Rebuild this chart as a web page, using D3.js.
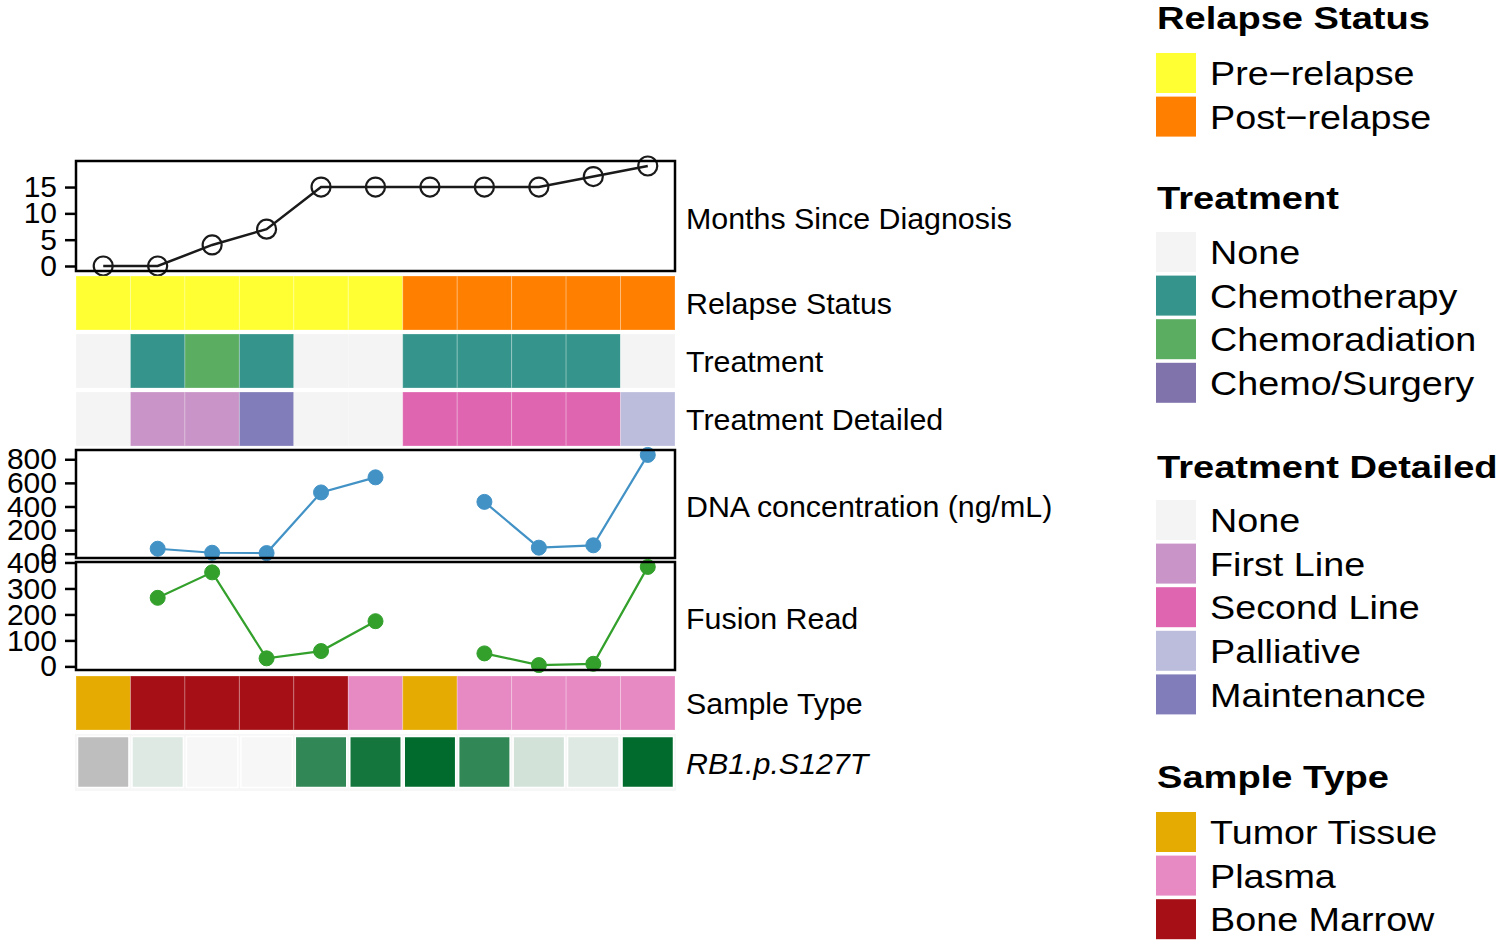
<!DOCTYPE html>
<html><head><meta charset="utf-8">
<script src="https://cdn.jsdelivr.net/npm/d3@7"></script>
<style>body{margin:0;background:#fff} text{font-family:"Liberation Sans",Arial,Helvetica,sans-serif;fill:#000}</style>
</head><body><svg id="c" width="1500" height="946"></svg>
<script>
// ---------------- DATA ----------------
const samples = ["S1","S2","S3","S4","S5","S6","S7","S8","S9","S10","S11"];
const months = [0,0,4,7,15,15,15,15,15,17,19];
const relapse = ["Pre−relapse","Pre−relapse","Pre−relapse","Pre−relapse","Pre−relapse","Pre−relapse","Post−relapse","Post−relapse","Post−relapse","Post−relapse","Post−relapse"];
const treatment = ["None","Chemotherapy","Chemoradiation","Chemotherapy","None","None","Chemotherapy","Chemotherapy","Chemotherapy","Chemotherapy","None"];
const treatmentDetailed = ["None","First Line","First Line","Maintenance","None","None","Second Line","Second Line","Second Line","Second Line","Palliative"];
const dnaConc = [null,42,8,5,519,647,null,439,51,71,837];
const fusionRead = [null,264,362,31,59,174,null,50,5,10,383];
const sampleType = ["Tumor Tissue","Bone Marrow","Bone Marrow","Bone Marrow","Bone Marrow","Plasma","Tumor Tissue","Plasma","Plasma","Plasma","Plasma"];
const rb1 = [null,0.1,0,0,0.8,0.92,1,0.8,0.15,0.1,1];

const relapseLevels = ["Pre−relapse","Post−relapse"];
const relapseColors = ["#FFFF33","#FF7F00"];
const treatmentLevels = ["None","Chemotherapy","Chemoradiation","Chemo/Surgery"];
const treatmentColors = ["#F4F4F4","#35958C","#5BAD61","#8073AC"];
const detailedLevels = ["None","First Line","Second Line","Palliative","Maintenance"];
const detailedColors = ["#F4F4F4","#C994C7","#DF65B0","#BCBDDC","#807DBA"];
const sampleLevels = ["Tumor Tissue","Plasma","Bone Marrow"];
const sampleColors = ["#E6AB02","#E78AC3","#A50F15"];
const rb1Colors = ["#F7F7F7","#006B2C"];
const rb1NA = "#BEBEBE";

// ---------------- LAYOUT ----------------
const svg = d3.select("#c");
const L = 76, R = 675;
const x = d3.scaleBand().domain(samples).range([L, R]).padding(0);
const cx = (i) => x(samples[i]) + x.bandwidth()/2;

function stext(g, px, py, str, o) {
  return g.append("text")
    .attr("transform", `translate(${px},${py}) scale(${o.sx||1},1)`)
    .attr("font-size", o.size)
    .attr("font-weight", o.weight || "normal")
    .attr("font-style", o.style || "normal")
    .attr("dy", o.dy || "0")
    .text(str);
}

function extDomain(vals) {
  const v = vals.filter(d => d != null);
  const mn = d3.min(v), mx = d3.max(v), e = (mx - mn) * 0.05;
  return [mn - e, mx + e];
}

function pointPanel(vals, y0, y1, color, hollow) {
  const y = d3.scaleLinear().domain(extDomain(vals)).range([y1, y0]);
  const g = svg.append("g");
  const ax = g.append("g").attr("transform", `translate(${L},0)`)
    .call(d3.axisLeft(y).ticks(5).tickSize(11).tickPadding(8));
  ax.select(".domain").remove();
  ax.selectAll("line").attr("stroke", "#000").attr("stroke-width", 2.5);
  ax.selectAll("text").attr("font-size", 30).attr("font-family", '"Liberation Sans",Arial,sans-serif').attr("fill","#000");
  const line = d3.line().defined(d => d.v != null).x(d => cx(d.i)).y(d => y(d.v));
  const pts = vals.map((v, i) => ({v, i}));
  g.append("path").datum(pts).attr("d", line).attr("fill", "none")
    .attr("stroke", color).attr("stroke-width", hollow ? 2.5 : 2.2);
  g.selectAll("circle").data(pts.filter(d => d.v != null)).join("circle")
    .attr("cx", d => cx(d.i)).attr("cy", d => y(d.v))
    .attr("r", hollow ? 9.5 : 7.5)
    .attr("fill", hollow ? "none" : color)
    .attr("stroke", color).attr("stroke-width", hollow ? 2.2 : 1);
  g.append("rect").attr("x", L).attr("y", y0).attr("width", R - L).attr("height", y1 - y0)
    .attr("fill", "none").attr("stroke", "#000").attr("stroke-width", 2.5);
}

function catRow(vals, levels, colors, y0, y1) {
  const c = d3.scaleOrdinal().domain(levels).range(colors);
  svg.append("g").selectAll("rect").data(vals).join("rect")
    .attr("x", (d, i) => x(samples[i])).attr("y", y0)
    .attr("width", x.bandwidth()).attr("height", y1 - y0)
    .attr("fill", d => c(d))
    .attr("stroke", "#fff").attr("stroke-opacity", 0.25).attr("stroke-width", 1);
}

// panels
pointPanel(months, 161, 271, "#1a1a1a", true);
catRow(relapse, relapseLevels, relapseColors, 276, 330);
catRow(treatment, treatmentLevels, treatmentColors, 334, 388);
catRow(treatmentDetailed, detailedLevels, detailedColors, 392, 446);
pointPanel(dnaConc, 450, 558, "#4292C6", false);
pointPanel(fusionRead, 562, 670, "#33A02C", false);
catRow(sampleType, sampleLevels, sampleColors, 676, 730);

// RB1 heat row
const rbScale = d3.scaleLinear().domain([0, 1]).range(rb1Colors).interpolate(d3.interpolateRgb);
svg.append("rect").attr("x", L - 1).attr("y", 734).attr("width", R - L + 2).attr("height", 57).attr("fill", "#F7F7F7");
svg.append("g").selectAll("rect").data(rb1).join("rect")
  .attr("x", (d, i) => x(samples[i]) + 1.5).attr("y", 736.5)
  .attr("width", x.bandwidth() - 3).attr("height", 51)
  .attr("fill", d => d == null ? rb1NA : rbScale(d))
  .attr("stroke", "#fff").attr("stroke-width", 1.5);

// annotation labels
const labs = [
  ["Months Since Diagnosis", 218, "normal"],
  ["Relapse Status", 303, "normal"],
  ["Treatment", 361, "normal"],
  ["Treatment Detailed", 419, "normal"],
  ["DNA concentration (ng/mL)", 506, "normal"],
  ["Fusion Read", 618, "normal"],
  ["Sample Type", 703, "normal"],
  ["RB1.p.S127T", 763, "italic"]
];
const lg = svg.append("g");
labs.forEach(([t, yy, st]) => stext(lg, 686, yy, t, {size: 29.5, sx: 1.03, dy: "0.36em", style: st}));

// ---------------- LEGENDS ----------------
const legends = [
  {title: "Relapse Status", levels: relapseLevels, colors: relapseColors, ty: 29, sy: 53},
  {title: "Treatment", levels: treatmentLevels, colors: treatmentColors, ty: 209, sy: 232},
  {title: "Treatment Detailed", levels: detailedLevels, colors: detailedColors, ty: 478, sy: 500},
  {title: "Sample Type", levels: sampleLevels, colors: sampleColors, ty: 788, sy: 812}
];
const LX = 1156, step = 43.6, sw = 40;
const leg = svg.append("g");
legends.forEach(l => {
  stext(leg, LX + 1, l.ty, l.title, {size: 32, weight: "bold", sx: 1.19});
  l.levels.forEach((lv, i) => {
    const yy = l.sy + i * step;
    leg.append("rect").attr("x", LX).attr("y", yy).attr("width", sw).attr("height", sw).attr("fill", l.colors[i]);
    stext(leg, 1210, yy + sw / 2, lv, {size: 34, sx: 1.11, dy: "0.36em"});
  });
});
</script></body></html>
